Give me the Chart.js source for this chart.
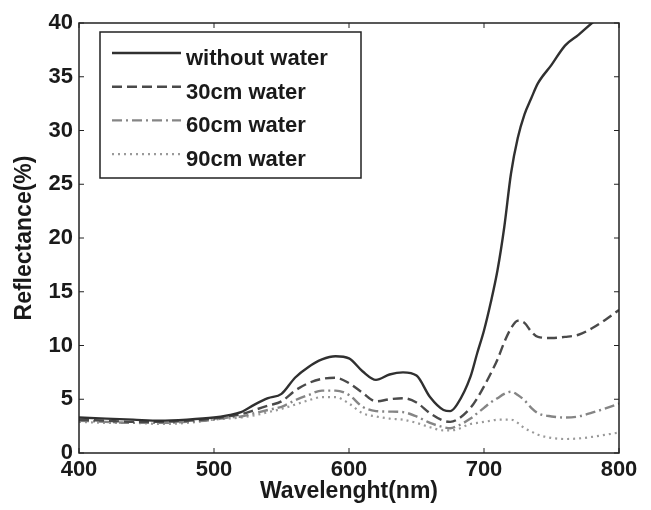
<!DOCTYPE html>
<html>
<head>
<meta charset="utf-8">
<script src="https://cdn.jsdelivr.net/npm/chart.js@4.4.1/dist/chart.umd.min.js"></script>
<style>
  body { margin: 0; background: #fff; }
  canvas { display: block; }
</style>
</head>
<body>
<canvas id="chart" width="651" height="510"></canvas>
<script>
const wavelengths = [400, 420, 440, 460, 480, 500, 510, 520, 530, 540, 550, 560, 570, 580, 590, 600,
    610, 620, 630, 640, 650, 660, 670, 675, 680, 690, 695, 700, 705, 710, 715, 720, 725, 730, 735,
    740, 750, 760, 770, 780, 790, 800];

const withoutWater = [3.3, 3.2, 3.1, 3.0, 3.1, 3.3, 3.5, 3.8, 4.5, 5.1, 5.5, 7.0, 8.0, 8.7, 9.0, 8.8,
    7.6, 6.8, 7.3, 7.5, 7.2, 5.2, 4.0, 3.9, 4.5, 7.1, 9.3, 11.4, 14.0, 17.0, 21.0, 26.0, 29.3, 31.5, 33.0,
    34.4, 36.1, 37.9, 38.9, 40.0, 41.0, 42.0];
const water30 = [3.1, 3.0, 2.9, 2.9, 3.0, 3.2, 3.4, 3.6, 4.0, 4.4, 4.8, 5.8, 6.5, 6.9, 7.0, 6.5,
    5.6, 4.8, 5.0, 5.1, 4.7, 3.7, 3.0, 2.9, 3.1, 4.2, 5.1, 6.2, 7.4, 8.7, 10.3, 11.6, 12.3, 12.1, 11.3,
    10.8, 10.7, 10.8, 11.0, 11.6, 12.4, 13.3];
const water60 = [3.0, 2.9, 2.8, 2.8, 2.9, 3.1, 3.3, 3.4, 3.7, 4.0, 4.3, 4.9, 5.4, 5.8, 5.8, 5.4,
    4.3, 3.9, 3.85, 3.8, 3.4, 2.8, 2.4, 2.3, 2.5, 3.2, 3.7, 4.2, 4.7, 5.1, 5.5, 5.7, 5.4, 4.9, 4.2,
    3.7, 3.4, 3.3, 3.4, 3.75, 4.15, 4.6];
const water90 = [2.9, 2.8, 2.8, 2.7, 2.8, 3.1, 3.2, 3.3, 3.5, 3.8, 4.1, 4.5, 4.9, 5.2, 5.2, 4.6,
    3.7, 3.4, 3.2, 3.1, 2.8, 2.4, 2.1, 2.1, 2.2, 2.7, 2.8, 2.9, 3.0, 3.1, 3.1, 3.1, 2.8, 2.3, 2.0,
    1.7, 1.4, 1.3, 1.35, 1.5, 1.7, 1.9];

const seriesNames = ['without water', '30cm water', '60cm water', '90cm water'];
const xTicks = [400, 500, 600, 700, 800];
const yTicks = [0, 5, 10, 15, 20, 25, 30, 35, 40];

const textColor = '#1a1a1a';
const fontFamily = '"Liberation Sans", Arial, sans-serif';

const toPoints = values => wavelengths.map((w, i) => ({ x: w, y: values[i] }));

const lineStyles = [
    { color: '#303030', dash: [], width: 2.4 },
    { color: '#4a4a4a', dash: [10, 5], width: 2.4 },
    { color: '#858585', dash: [10, 4, 2, 4], width: 2.4 },
    { color: '#9a9a9a', dash: [2, 4], width: 2.2 },
];

const allSeries = [withoutWater, water30, water60, water90];

// frame, inward tick marks and the boxed legend
const framePlugin = {
    id: 'frame',
    afterDatasetsDraw(chart) {
        const { ctx, chartArea: a, scales } = chart;
        ctx.save();
        ctx.strokeStyle = '#222';
        ctx.lineWidth = 1.5;
        ctx.setLineDash([]);
        ctx.strokeRect(a.left, a.top, a.right - a.left, a.bottom - a.top);

        const tick = 5;
        ctx.lineWidth = 1;
        ctx.beginPath();
        xTicks.forEach(v => {
            const px = scales.x.getPixelForValue(v);
            ctx.moveTo(px, a.bottom); ctx.lineTo(px, a.bottom - tick);
            ctx.moveTo(px, a.top); ctx.lineTo(px, a.top + tick);
        });
        yTicks.forEach(v => {
            const py = scales.y.getPixelForValue(v);
            ctx.moveTo(a.left, py); ctx.lineTo(a.left + tick, py);
            ctx.moveTo(a.right, py); ctx.lineTo(a.right - tick, py);
        });
        ctx.stroke();

        // legend
        const box = { x: 100, y: 32, w: 261, h: 146 };
        ctx.fillStyle = '#fff';
        ctx.fillRect(box.x, box.y, box.w, box.h);
        ctx.lineWidth = 1.5;
        ctx.strokeStyle = '#222';
        ctx.strokeRect(box.x, box.y, box.w, box.h);

        ctx.font = 'bold 22px ' + fontFamily;
        ctx.textBaseline = 'alphabetic';
        ctx.textAlign = 'left';
        seriesNames.forEach((name, i) => {
            const base = 65 + i * 33.7;
            const st = lineStyles[i];
            ctx.strokeStyle = st.color;
            ctx.lineWidth = st.width;
            ctx.setLineDash(st.dash);
            ctx.beginPath();
            ctx.moveTo(112, base - 12);
            ctx.lineTo(181, base - 12);
            ctx.stroke();
            ctx.fillStyle = textColor;
            ctx.fillText(name, 186, base);
        });
        ctx.restore();
    }
};

const ctx = document.getElementById('chart').getContext('2d');

new Chart(ctx, {
    type: 'line',
    data: {
        datasets: allSeries.map((values, i) => ({
            label: seriesNames[i],
            data: toPoints(values),
            borderColor: lineStyles[i].color,
            borderDash: lineStyles[i].dash,
            borderWidth: lineStyles[i].width,
            pointRadius: 0,
            fill: false,
            cubicInterpolationMode: 'monotone',
        })),
    },
    options: {
        responsive: false,
        animation: false,
        layout: { padding: { top: 23, right: 32, left: 0, bottom: 0 } },
        plugins: {
            legend: { display: false },
            tooltip: { enabled: false },
        },
        scales: {
            x: {
                type: 'linear',
                min: 400,
                max: 800,
                afterBuildTicks: scale => { scale.ticks = xTicks.map(v => ({ value: v })); },
                afterFit: scale => { scale.height = 57; },
                grid: { display: false, drawTicks: false },
                border: { display: false },
                ticks: {
                    color: textColor,
                    padding: 4,
                    maxRotation: 0,
                    font: { family: fontFamily, size: 22, weight: 'bold' },
                },
                title: {
                    display: true,
                    text: 'Wavelenght(nm)',
                    color: textColor,
                    padding: { top: 0, bottom: 5 },
                    font: { family: fontFamily, size: 23, weight: 'bold' },
                },
            },
            y: {
                min: 0,
                max: 40,
                afterBuildTicks: scale => { scale.ticks = yTicks.map(v => ({ value: v })); },
                afterFit: scale => { scale.width = 79; },
                grid: { display: false, drawTicks: false },
                border: { display: false },
                ticks: {
                    color: textColor,
                    padding: 6,
                    font: { family: fontFamily, size: 22, weight: 'bold' },
                },
                title: {
                    display: true,
                    text: 'Reflectance(%)',
                    color: textColor,
                    padding: { top: 11, bottom: 0 },
                    font: { family: fontFamily, size: 23, weight: 'bold' },
                },
            },
        },
    },
    plugins: [framePlugin],
});
</script>
</body>
</html>
